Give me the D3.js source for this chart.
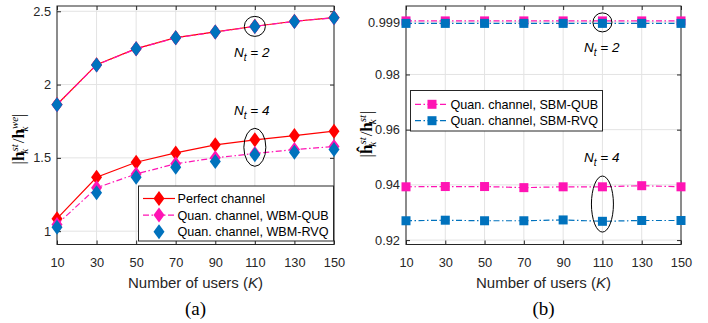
<!DOCTYPE html>
<html><head><meta charset="utf-8">
<script src="https://cdn.jsdelivr.net/npm/d3@7"></script>
<style>
body{margin:0;background:#fff;}
svg{display:block;}
text{font-family:"Liberation Sans",Arial,Helvetica,sans-serif;}
</style></head>
<body><svg id="c" width="708" height="323"></svg>
<script>
// ---------- data ----------
const users = [10, 30, 50, 70, 90, 110, 130, 150];
const xTicks = [10, 30, 50, 70, 90, 110, 130, 150];
// (a) Nt = 2
const perfectNt2 = [1.864, 2.136, 2.245, 2.320, 2.359, 2.398, 2.432, 2.457];
const wbmQubNt2  = [1.862, 2.134, 2.244, 2.319, 2.358, 2.397, 2.431, 2.456];
const wbmRvqNt2  = [1.862, 2.134, 2.244, 2.319, 2.358, 2.397, 2.431, 2.456];
// (a) Nt = 4
const perfectNt4 = [1.085, 1.368, 1.470, 1.534, 1.589, 1.623, 1.652, 1.682];
const wbmQubNt4  = [1.046, 1.296, 1.390, 1.460, 1.500, 1.530, 1.557, 1.577];
const wbmRvqNt4  = [1.027, 1.262, 1.368, 1.436, 1.475, 1.521, 1.539, 1.557];
const yTicksA = [1, 1.5, 2, 2.5];
const yTickLabelsA = ["1", "1.5", "2", "2.5"];
// (b)
const sbmQubNt2 = [0.9994, 0.9994, 0.9994, 0.9994, 0.9994, 0.9994, 0.9994, 0.9994];
const sbmRvqNt2 = [0.9985, 0.9985, 0.9985, 0.9985, 0.9985, 0.9985, 0.9985, 0.9985];
const sbmQubNt4 = [0.9393, 0.9394, 0.9394, 0.9390, 0.9393, 0.9393, 0.9397, 0.9393];
const sbmRvqNt4 = [0.9270, 0.9272, 0.9270, 0.9270, 0.9273, 0.9268, 0.9271, 0.9271];
const yTicksB = [0.92, 0.94, 0.96, 0.98, 0.999];
const yTickLabelsB = ["0.92", "0.94", "0.96", "0.98", "0.999"];

const legendA = ["Perfect channel", "Quan. channel, WBM-QUB", "Quan. channel, WBM-RVQ"];
const legendB = ["Quan. channel, SBM-QUB", "Quan. channel, SBM-RVQ"];

// ---------- style ----------
const RED = "#ff0000", MAG = "#ff14b4", BLUE = "#0072bd";
const AX = "#262626", GRID = "#e3e3e3";
const DASHDOT = "6,2.5,1.5,2.5";

const svg = d3.select("#c");

function panel(cfg){
  const g = svg.append("g");
  const x = d3.scaleLinear().domain([10,150]).range([cfg.x0, cfg.x1]);
  const y = d3.scaleLinear().domain(cfg.ydom).range([cfg.y1, cfg.y0]);
  g.append("g").selectAll("line").data(xTicks).join("line")
    .attr("x1", d=>x(d)).attr("x2", d=>x(d)).attr("y1", cfg.y0).attr("y2", cfg.y1)
    .attr("stroke", GRID).attr("stroke-width", 1);
  g.append("g").selectAll("line").data(cfg.yTicks).join("line")
    .attr("x1", cfg.x0).attr("x2", cfg.x1).attr("y1", d=>y(d)).attr("y2", d=>y(d))
    .attr("stroke", GRID).attr("stroke-width", 1);
  const bottom = g.append("g").attr("transform", `translate(0,${cfg.y1})`)
    .call(d3.axisBottom(x).tickValues(xTicks).tickSizeInner(-4).tickSizeOuter(0).tickPadding(13));
  const top = g.append("g").attr("transform", `translate(0,${cfg.y0})`)
    .call(d3.axisTop(x).tickValues(xTicks).tickSizeInner(-4).tickSizeOuter(0).tickFormat(""));
  const left = g.append("g").attr("transform", `translate(${cfg.x0},0)`)
    .call(d3.axisLeft(y).tickValues(cfg.yTicks).tickSizeInner(-4).tickSizeOuter(0).tickPadding(6)
      .tickFormat((d,i)=>cfg.yLabels[i]));
  const right = g.append("g").attr("transform", `translate(${cfg.x1},0)`)
    .call(d3.axisRight(y).tickValues(cfg.yTicks).tickSizeInner(-4).tickSizeOuter(0).tickFormat(""));
  [bottom, top, left, right].forEach(a=>{
    a.select(".domain").remove();
    a.selectAll("line").attr("stroke", AX);
    a.selectAll("text").attr("fill", AX).style("font-size","12.8px").style("font-family",'"Liberation Sans",Arial,sans-serif');
  });
  g.append("rect").attr("x", cfg.x0).attr("y", cfg.y0).attr("width", cfg.x1-cfg.x0).attr("height", cfg.y1-cfg.y0)
    .attr("fill","none").attr("stroke", AX).attr("stroke-width",1);
  const xl = g.append("text").attr("x",(cfg.x0+cfg.x1)/2).attr("y",287.5).attr("text-anchor","middle")
    .style("font-size","15px").attr("fill", AX);
  xl.append("tspan").text("Number of users (");
  xl.append("tspan").style("font-style","italic").text("K");
  xl.append("tspan").text(")");
  g.append("text").attr("x",(cfg.x0+cfg.x1)/2).attr("y",315).attr("text-anchor","middle")
    .style("font-family",'"Liberation Serif","Times New Roman",serif').style("font-size","19px").attr("fill","#000").text(cfg.letter);
  return {g,x,y};
}

function diamond(sel, cx, cy, fill, w, h){
  sel.append("path").attr("d", `M${cx},${cy-h}L${cx+w},${cy}L${cx},${cy+h}L${cx-w},${cy}Z`).attr("fill", fill);
}
function square(sel, cx, cy, fill, s){
  sel.append("rect").attr("x", cx-s/2).attr("y", cy-s/2).attr("width", s).attr("height", s).attr("fill", fill);
}

function series(p, vals, color, dash, marker, drawLine){
  const line = d3.line().x((d,i)=>p.x(users[i])).y(d=>p.y(d));
  if (drawLine) p.g.append("path").datum(vals).attr("d", line).attr("fill","none")
    .attr("stroke", color).attr("stroke-width", 1.2).attr("stroke-dasharray", dash);
  const mg = p.g.append("g");
  vals.forEach((v,i)=>{
    if (marker==="d") diamond(mg, p.x(users[i]), p.y(v), color, 5.5, 7.5);
    else square(mg, p.x(users[i]), p.y(v), color, 9);
  });
}

function mathNt(g, x, y, n){
  const t = g.append("text").attr("x", x).attr("y", y).style("font-size","13.5px").attr("fill","#000");
  t.append("tspan").style("font-style","italic").text("N");
  t.append("tspan").style("font-style","italic").style("font-size","10px").attr("dy", 4).text("t");
  t.append("tspan").style("font-style","italic").attr("dy", -4).text(" = " + n);
}

// ---------- panel (a) ----------
const A = panel({x0:57, x1:334, y0:6, y1:244.5, ydom:[0.909, 2.536], yTicks:yTicksA, yLabels:yTickLabelsA, letter:"(a)"});
series(A, perfectNt2, RED, null, "d", true);
series(A, perfectNt4, RED, null, "d", true);
series(A, wbmQubNt2, MAG, DASHDOT, "d", true);
series(A, wbmQubNt4, MAG, DASHDOT, "d", true);
series(A, wbmRvqNt2, BLUE, null, "d", false);
series(A, wbmRvqNt4, BLUE, null, "d", false);
A.g.append("ellipse").attr("cx", A.x(110)).attr("cy", A.y(wbmRvqNt2[5])).attr("rx",10.5).attr("ry",10)
  .attr("fill","none").attr("stroke","#000").attr("stroke-width",1);
mathNt(A.g, 234, 57, 2);
A.g.append("ellipse").attr("cx", A.x(110)).attr("cy", (A.y(perfectNt4[5])+A.y(wbmRvqNt4[5]))/2).attr("rx",11).attr("ry",19)
  .attr("fill","none").attr("stroke","#000").attr("stroke-width",1);
mathNt(A.g, 234, 115, 4);
{
  const lg = A.g.append("g");
  lg.append("rect").attr("x",138.5).attr("y",186).attr("width",195).attr("height",55).attr("fill","#fff").attr("stroke",AX).attr("stroke-width",1);
  const cols = [RED, MAG, BLUE], dashes=[null, DASHDOT, null], lines=[true,true,false];
  legendA.forEach((t,i)=>{
    const yy = 198.5 + i*16.6;
    if (lines[i]) lg.append("line").attr("x1",143).attr("x2",175).attr("y1",yy).attr("y2",yy).attr("stroke",cols[i]).attr("stroke-width",1.2).attr("stroke-dasharray",dashes[i]);
    diamond(lg, 159, yy, cols[i], 5.5, 7.5);
    lg.append("text").attr("x",177.5).attr("y",yy+4.5).style("font-size","12.6px").attr("fill","#000").text(t);
  });
}
function ylabel(cx, cy, hatted, supTop){
  const g = svg.append("g").attr("transform", `translate(${cx},${cy}) rotate(-90)`);
  const serif = '"Liberation Serif","Times New Roman",serif';
  const t = g.append("text").attr("x",0).attr("y",0).attr("text-anchor","middle").style("font-family",serif).style("font-size","17px").attr("fill","#000");
  const sub = "11px";
  t.append("tspan").text("|");
  t.append("tspan").style("font-weight","bold").text(hatted ? "\u0125" : "h");
  t.append("tspan").style("font-style","italic").style("font-size",sub).attr("dy",-6.5).text("st");
  t.append("tspan").style("font-style","italic").style("font-size",sub).attr("dx",-9.5).attr("dy",10.5).text("k");
  t.append("tspan").attr("dx",5.5).attr("dy",-4).text("/");
  t.append("tspan").style("font-weight","bold").text("h");
  t.append("tspan").style("font-style","italic").style("font-size",sub).attr("dy",-6.5).text(supTop);
  t.append("tspan").style("font-style","italic").style("font-size",sub).attr("dx", supTop==="we"? -14.5 : -9.5).attr("dy",10.5).text("k");
  t.append("tspan").attr("dx", supTop==="we"? 9.5 : 5.5).attr("dy",-4).text("|");
}
ylabel(24, 139, false, "we");

// ---------- panel (b) ----------
const B = panel({x0:406, x1:681, y0:6, y1:244.5, ydom:[0.9184, 1.0048], yTicks:yTicksB, yLabels:yTickLabelsB, letter:"(b)"});
series(B, sbmQubNt2, MAG, DASHDOT, "s", true);
series(B, sbmQubNt4, MAG, DASHDOT, "s", true);
series(B, sbmRvqNt2, BLUE, DASHDOT, "s", true);
series(B, sbmRvqNt4, BLUE, DASHDOT, "s", true);
B.g.append("ellipse").attr("cx", B.x(110)).attr("cy", B.y(sbmRvqNt2[5])-1).attr("rx",9.5).attr("ry",9.5)
  .attr("fill","none").attr("stroke","#000").attr("stroke-width",1);
mathNt(B.g, 584, 52, 2);
B.g.append("ellipse").attr("cx", B.x(110)).attr("cy", (B.y(sbmQubNt4[5])+B.y(sbmRvqNt4[5]))/2).attr("rx",11).attr("ry",28)
  .attr("fill","none").attr("stroke","#000").attr("stroke-width",1);
mathNt(B.g, 584, 162, 4);
{
  const lg = B.g.append("g");
  lg.append("rect").attr("x",410.5).attr("y",90.5).attr("width",192).attr("height",40.5).attr("fill","#fff").attr("stroke",AX).attr("stroke-width",1);
  const cols = [MAG, BLUE];
  legendB.forEach((t,i)=>{
    const yy = 104.3 + i*16.4;
    lg.append("line").attr("x1",415).attr("x2",448).attr("y1",yy).attr("y2",yy).attr("stroke",cols[i]).attr("stroke-width",1.2).attr("stroke-dasharray",DASHDOT);
    square(lg, 432, yy, cols[i], 9);
    lg.append("text").attr("x",450.5).attr("y",yy+4.5).style("font-size","12.6px").attr("fill","#000").text(t);
  });
}
ylabel(372, 134, true, "st");
</script></body></html>
